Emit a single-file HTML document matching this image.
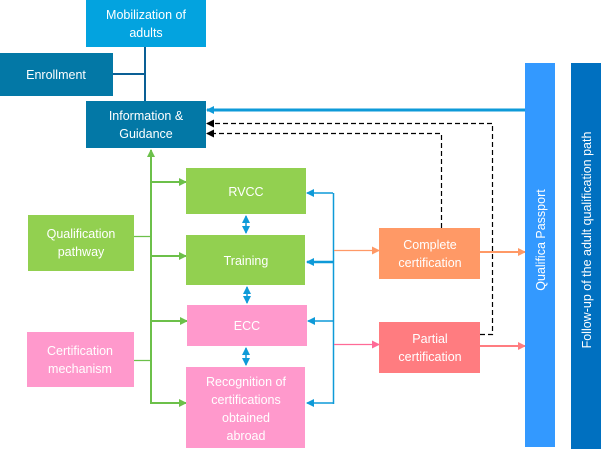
<!DOCTYPE html>
<html><head><meta charset="utf-8"><style>
html,body{margin:0;padding:0;background:#fff;width:601px;height:449px;overflow:hidden}
text{font-family:"Liberation Sans",sans-serif;fill:#fff;font-size:12.5px}
</style></head><body>
<svg width="601" height="449" viewBox="0 0 601 449" xmlns="http://www.w3.org/2000/svg">
<defs>
<marker id="ag" markerWidth="8" markerHeight="8" refX="7" refY="4" orient="auto" markerUnits="userSpaceOnUse"><path d="M0,0 L8,4 L0,8z" fill="#6cc04a"/></marker>
<marker id="ab" markerWidth="8" markerHeight="8" refX="7" refY="4" orient="auto-start-reverse" markerUnits="userSpaceOnUse"><path d="M0,0 L8,4 L0,8z" fill="#0e9ad8"/></marker>
<marker id="ak" markerWidth="8" markerHeight="8" refX="7" refY="4" orient="auto" markerUnits="userSpaceOnUse"><path d="M0,0 L8,4 L0,8z" fill="#000"/></marker>
<marker id="ao" markerWidth="8" markerHeight="8" refX="7" refY="4" orient="auto" markerUnits="userSpaceOnUse"><path d="M0,0 L8,4 L0,8z" fill="#ff9966"/></marker>
<marker id="ap" markerWidth="8" markerHeight="8" refX="7" refY="4" orient="auto" markerUnits="userSpaceOnUse"><path d="M0,0 L8,4 L0,8z" fill="#ff6a96"/></marker>
<marker id="ar" markerWidth="8" markerHeight="8" refX="7" refY="4" orient="auto" markerUnits="userSpaceOnUse"><path d="M0,0 L8,4 L0,8z" fill="#ff7c80"/></marker>
</defs>
<line x1="145" y1="47" x2="145" y2="101" stroke="#0a5f95" stroke-width="2"/>
<line x1="113" y1="74" x2="145" y2="74" stroke="#0a5f95" stroke-width="2"/>
<rect x="86" y="0" width="120" height="47" fill="#03a3df"/>
<text x="146" y="19" text-anchor="middle">Mobilization of</text>
<text x="146" y="37" text-anchor="middle">adults</text>
<rect x="0" y="53" width="113" height="43" fill="#0378a6"/>
<text x="56" y="79" text-anchor="middle">Enrollment</text>
<rect x="86" y="101" width="120" height="47" fill="#0378a6"/>
<text x="146" y="120" text-anchor="middle">Information &amp;</text>
<text x="146" y="138" text-anchor="middle">Guidance</text>
<line x1="151" y1="403" x2="151" y2="150" stroke="#6cc04a" stroke-width="2" marker-end="url(#ag)"/>
<line x1="151" y1="182" x2="186" y2="182" stroke="#6cc04a" stroke-width="2" marker-end="url(#ag)"/>
<line x1="151" y1="256" x2="186" y2="256" stroke="#6cc04a" stroke-width="2" marker-end="url(#ag)"/>
<line x1="151" y1="321" x2="187" y2="321" stroke="#6cc04a" stroke-width="2" marker-end="url(#ag)"/>
<line x1="150" y1="403" x2="186" y2="403" stroke="#6cc04a" stroke-width="2" marker-end="url(#ag)"/>
<line x1="134" y1="236.5" x2="151" y2="236.5" stroke="#6cc04a" stroke-width="1.2"/>
<line x1="134" y1="360.5" x2="151" y2="360.5" stroke="#6cc04a" stroke-width="1.2"/>
<rect x="28" y="215" width="106" height="56" fill="#92d050"/>
<text x="81" y="238" text-anchor="middle">Qualification</text>
<text x="81" y="256" text-anchor="middle">pathway</text>
<rect x="27" y="332" width="107" height="55" fill="#ff99cc"/>
<text x="80" y="355" text-anchor="middle">Certification</text>
<text x="80" y="373" text-anchor="middle">mechanism</text>
<rect x="186" y="168" width="120" height="46" fill="#92d050"/>
<text x="246" y="196" text-anchor="middle">RVCC</text>
<rect x="186" y="235" width="119" height="50" fill="#92d050"/>
<text x="246" y="265" text-anchor="middle">Training</text>
<rect x="187" y="305" width="120" height="41" fill="#ff99cc"/>
<text x="247" y="330" text-anchor="middle">ECC</text>
<rect x="186" y="367" width="119" height="81" fill="#ff99cc"/>
<text x="246" y="386" text-anchor="middle">Recognition of</text>
<text x="246" y="404" text-anchor="middle">certifications</text>
<text x="246" y="422" text-anchor="middle">obtained</text>
<text x="246" y="440" text-anchor="middle">abroad</text>
<line x1="246" y1="216" x2="246" y2="233" stroke="#0e9ad8" stroke-width="1.5" marker-start="url(#ab)" marker-end="url(#ab)"/>
<line x1="247" y1="287" x2="247" y2="303" stroke="#0e9ad8" stroke-width="1.5" marker-start="url(#ab)" marker-end="url(#ab)"/>
<line x1="246" y1="348" x2="246" y2="365" stroke="#0e9ad8" stroke-width="1.5" marker-start="url(#ab)" marker-end="url(#ab)"/>
<line x1="333.5" y1="193" x2="333.5" y2="404" stroke="#0e9ad8" stroke-width="1.5"/>
<line x1="333" y1="193" x2="307" y2="193" stroke="#0e9ad8" stroke-width="1.5" marker-end="url(#ab)"/>
<line x1="333" y1="262" x2="307" y2="262" stroke="#0e9ad8" stroke-width="2.5" marker-end="url(#ab)"/>
<line x1="333" y1="321" x2="308" y2="321" stroke="#0e9ad8" stroke-width="1.5" marker-end="url(#ab)"/>
<line x1="333" y1="403" x2="307" y2="403" stroke="#0e9ad8" stroke-width="1.5" marker-end="url(#ab)"/>
<line x1="334" y1="250.5" x2="379" y2="250.5" stroke="#ff9966" stroke-width="1.2" marker-end="url(#ao)"/>
<line x1="334" y1="344.5" x2="379" y2="344.5" stroke="#ff6a96" stroke-width="1.2" marker-end="url(#ap)"/>
<rect x="379" y="228" width="101" height="51" fill="#ff9966"/>
<text x="430" y="249" text-anchor="middle">Complete</text>
<text x="430" y="267" text-anchor="middle">certification</text>
<rect x="379" y="322" width="101" height="51" fill="#ff7c80"/>
<text x="430" y="343" text-anchor="middle">Partial</text>
<text x="430" y="361" text-anchor="middle">certification</text>
<line x1="480" y1="252" x2="525" y2="252" stroke="#ff9966" stroke-width="2" marker-end="url(#ao)"/>
<line x1="480" y1="346" x2="525" y2="346" stroke="#ff7c80" stroke-width="2" marker-end="url(#ar)"/>
<polyline points="441.5,228 441.5,133.5 207,133.5" fill="none" stroke="#000" stroke-width="1.2" stroke-dasharray="5,3" marker-end="url(#ak)"/>
<polyline points="480,334.5 492.5,334.5 492.5,123.5 207,123.5" fill="none" stroke="#000" stroke-width="1.2" stroke-dasharray="5,3" marker-end="url(#ak)"/>
<line x1="525" y1="110" x2="207" y2="110" stroke="#0e9ad8" stroke-width="3" marker-end="url(#ab)"/>
<rect x="525" y="63" width="30" height="384" fill="#3399ff"/>
<text transform="translate(545,240) rotate(-90)" text-anchor="middle">Qualifica Passport</text>
<rect x="571" y="63" width="30" height="386" fill="#0070c0"/>
<text transform="translate(591,240) rotate(-90)" text-anchor="middle">Follow-up of the adult qualification path</text>
</svg>
</body></html>
